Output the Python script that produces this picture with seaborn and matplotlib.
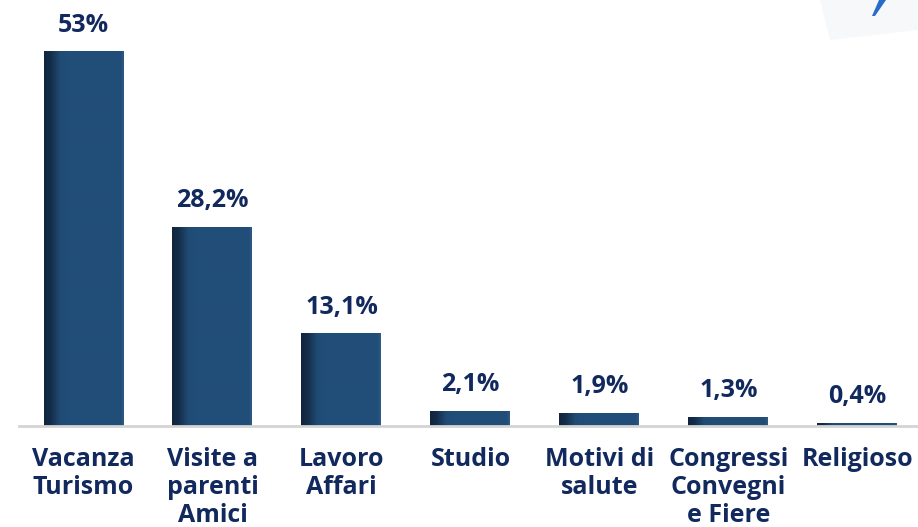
import numpy as np
import pandas as pd
import matplotlib.pyplot as plt
import seaborn as sns
from matplotlib.colors import LinearSegmentedColormap
from matplotlib.patches import Polygon

# dati
categorie = ["Vacanza\nTurismo", "Visite a\nparenti\nAmici", "Lavoro\nAffari", "Studio",
             "Motivi di\nsalute", "Congressi\nConvegni\ne Fiere", "Religioso"]
valori = [53.0, 28.2, 13.1, 2.1, 1.9, 1.3, 0.4]
etichette = ["53%", "28,2%", "13,1%", "2,1%", "1,9%", "1,3%", "0,4%"]

sns.set_style("white")
plt.rcParams["font.family"] = ["Open Sans", "DejaVu Sans"]
TESTO = "#12295e"
BARRA = "#214e78"

df = pd.DataFrame({"cat": categorie, "val": valori})

fig = plt.figure(figsize=(9.18, 5.27), dpi=100)
ax = fig.add_axes([19 / 918, 101 / 527, 899 / 918, 424 / 527])

sns.barplot(data=df, x="cat", y="val", color=BARRA, width=0.62, saturation=1, ax=ax)

# sfumatura scura sul bordo sinistro delle barre
cmap = LinearSegmentedColormap.from_list(
    "g", [(0, "#10243d"), (0.08, "#142d4a"), (0.2, "#1f4b73"), (0.3, BARRA), (0.96, BARRA), (1, "#2d5a84")])
grad = np.linspace(0, 1, 200).reshape(1, -1)
for p in ax.patches:
    x0, y0 = p.get_x(), p.get_y()
    w, h = p.get_width(), p.get_height()
    im = ax.imshow(grad, cmap=cmap, aspect="auto", extent=[x0, x0 + w, y0, y0 + h], zorder=p.get_zorder() + 0.1)
    im.set_clip_path(p)

for i, (v, t) in enumerate(zip(valori, etichette)):
    ax.annotate(t, (i, v), xytext=(0, 10), textcoords="offset points", ha="center", va="bottom",
                fontsize=18, fontweight="bold", color=TESTO)

ax.set_xlim(-0.5, 6.47)
ax.set_ylim(0, 60)
ax.set_xlabel("")
ax.set_ylabel("")
ax.set_yticks([])
ax.tick_params(axis="x", length=0, pad=15)
for lab in ax.get_xticklabels():
    lab.set_fontsize(18)
    lab.set_fontweight("bold")
    lab.set_color(TESTO)
    lab.set_linespacing(1.15)
    lab.set_va("top")

sns.despine(ax=ax, left=True, right=True, top=True)
ax.spines["bottom"].set_color("#d4d4d4")
ax.spines["bottom"].set_linewidth(2)

# frammento di logo in alto a destra
fig.patches.append(Polygon([(820 / 918, 1.0), (918 / 918, 1.0), (918 / 918, 1 - 30 / 527), (830 / 918, 1 - 40 / 527)],
                           closed=True, transform=fig.transFigure, facecolor="#f7f8fa", edgecolor="none"))
fig.patches.append(Polygon([(872 / 918, 1 - 16 / 527), (879 / 918, 1.0), (886 / 918, 1.0), (875 / 918, 1 - 16 / 527)],
                           closed=True, transform=fig.transFigure, facecolor="#2a6bc8", edgecolor="none"))

fig.savefig("out.png", dpi=100)
